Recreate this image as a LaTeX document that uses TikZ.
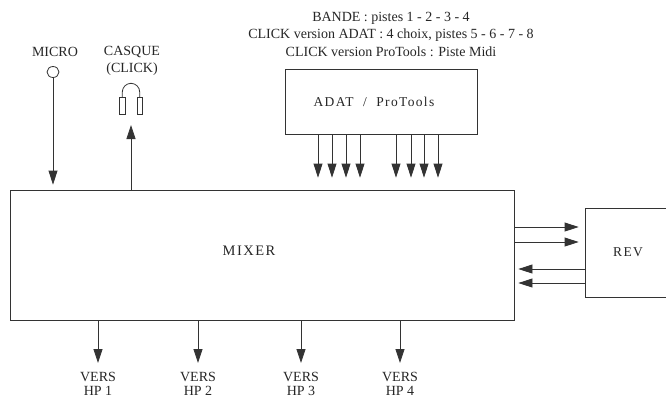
\documentclass[tikz,border=0pt]{standalone}
\usepackage{fontspec}
\setmainfont{Liberation Serif}
\newfontfamily\spacedfont[LetterSpace=10]{Liberation Serif}
\usetikzlibrary{arrows.meta,shapes.geometric}

\tikzset{
  box/.style={draw=black!80, line width=0.8pt, rectangle, inner sep=0pt},
  line/.style={draw=black!80, line width=0.8pt},
  arr/.style={line, -{Triangle[length=14pt,width=9pt]}},
  txt/.style={text=black!85, font=\fontsize{14}{17.5}\selectfont, align=center, inner sep=0pt},
  big/.style={text=black!85, font=\spacedfont\fontsize{14.5}{17}\selectfont, inner sep=0pt},
}

\begin{document}
\begin{tikzpicture}[x=1pt,y=-1pt]
  \useasboundingbox (0,0) rectangle (666,400);
  %Kaesten
  \node[box, minimum width=504pt, minimum height=130pt,
        label={[big, xshift=-13pt, yshift=4pt]center:MIXER}] (mixer) at (262,255) {};
  \node[box, minimum width=192pt, minimum height=65pt] (adat) at (381,101.5)
        {\hspace*{-14pt}{\spacedfont\fontsize{13.5}{17}\selectfont\color{black!85}ADAT\ \ /\ \ ProTools}};
  \node[box, minimum width=86pt, minimum height=89pt] (rev) at (628,252.5)
        {{\spacedfont\fontsize{13.5}{17}\selectfont\color{black!85}REV}};
  \node[txt] (pistes) at (391,34) {BANDE : pistes 1 - 2 - 3 - 4\\
    CLICK version ADAT : 4 choix, pistes 5 - 6 - 7 - 8\\
    CLICK version ProTools : Piste Midi};

  %Micro
  \node[txt] (microlbl) at (55,52) {MICRO};
  \node[line, ellipse, minimum width=12pt, minimum height=11pt, inner sep=0pt] (micro) at (53,72) {};
  \draw[arr] (micro.south) -- ([yshift=5pt]micro.south |- mixer.north);

  %Casque
  \node[txt] (casquelbl) at (132,61) {CASQUE\\(CLICK)};
  \draw[line] (122.3,97) -- (122.3,92) arc (180:360:8.7) -- (139.7,97);
  \draw[line] (119.5,97) rectangle (125,114);
  \draw[line] (137,97) rectangle (142.5,114);
  \coordinate (phones) at (131,125);
  \draw[arr] (mixer.north -| phones) -- (phones);

  %Pistes ADAT
  \foreach \x in {318,332,346,360,396,411,424,438}
    \draw[arr] (\x,0 |- adat.south) -- ([yshift=12pt]\x,0 |- mixer.north);

  %Sorties HP
  \foreach \x/\n in {98/1,198/2,301/3,400/4} {
    \node[txt, font=\fontsize{14}{14.5}\selectfont, anchor=north] (hp\n) at (\x,372) {VERS\\HP \n};
    \draw[arr] (mixer.south -| hp\n) -- ([yshift=9pt]hp\n.north);
  }

  %Reverb
  \draw[arr] (mixer.east |- 0,227) -- ([xshift=-6pt]rev.west |- 0,227);
  \draw[arr] (mixer.east |- 0,242) -- ([xshift=-6pt]rev.west |- 0,242);
  \draw[arr] (rev.west |- 0,269) -- ([xshift=4pt]mixer.east |- 0,269);
  \draw[arr] (rev.west |- 0,283) -- ([xshift=4pt]mixer.east |- 0,283);
\end{tikzpicture}
\end{document}
